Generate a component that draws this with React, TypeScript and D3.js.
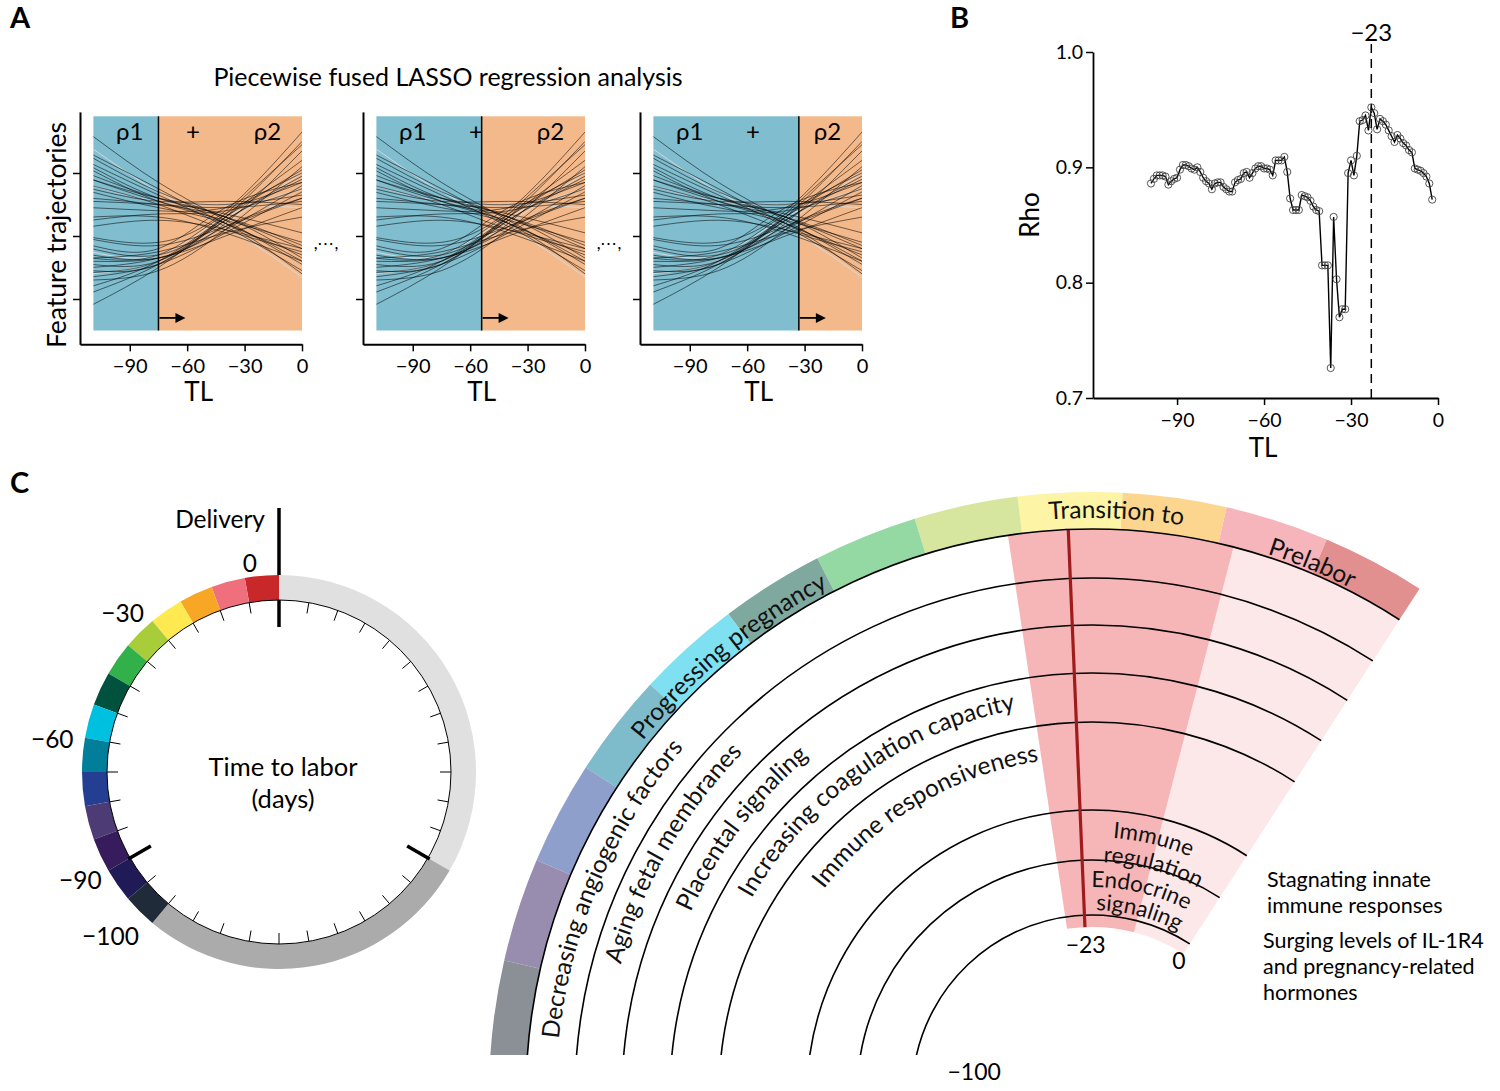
import React, { useEffect, useRef } from "react";
import * as d3 from "d3";

// ---------- panel A: feature trajectories (values at TL = trajTL) ----------
const trajTL = [-110, -75, -40, 0];
const trajectories = [
  [1.6, 0.85, 0.25, -0.45],
  [1.3, 0.75, 0.2, -0.3],
  [1.25, 0.7, 0.3, -0.2],
  [1.15, 0.65, 0.15, -0.55],
  [1.05, 0.55, 0.25, -0.1],
  [0.97, 0.6, 0.3, -0.35],
  [0.9, 0.55, 0.2, -0.6],
  [0.8, 0.5, 0.1, -0.25],
  [0.7, 0.45, 0.2, -0.4],
  [0.6, 0.5, 0.3, -0.15],
  [1.1, 0.6, 0.35, 0.05],
  [0.3, 0.3, 0.05, -0.4],
  [0.15, 0.25, 0.1, -0.2],
  [0.75, 0.55, 0.55, 0.5],
  [0.9, 0.6, 0.5, 0.65],
  [0.55, 0.5, 0.45, 0.55],
  [0.25, 0.35, 0.4, 0.75],
  [0.45, 0.4, 0.45, 0.85],
  [-0.02, -0.1, 0.4, 1.65],
  [-0.2, -0.3, 0.3, 1.5],
  [-0.3, -0.35, 0.2, 1.35],
  [-0.35, -0.3, 0.35, 1.0],
  [-0.45, -0.4, 0.25, 0.9],
  [-0.5, -0.35, 0.1, 0.8],
  [-0.58, -0.4, 0.3, 1.2],
  [-0.65, -0.45, 0.05, 0.7],
  [-0.8, -0.4, 0.3, 1.05],
  [-1.1, -0.5, 0.25, 0.95],
  [-0.9, -0.45, 0.15, 0.6],
  [-0.4, -0.35, 0.0, 0.45],
  [-0.15, -0.2, 0.45, 0.85],
  [-0.7, -0.55, 0.1, 1.1],
  [-0.35, -0.25, 0.05, 0.3],
  [-0.55, -0.45, 0.35, 1.45],
  [-0.05, -0.15, 0.15, 0.6],
];
const faintTrajectories = [
  [1.4, 0.7, 0.15, -0.65],
  [0.8, 0.55, 0.5, 0.45],
  [-0.25, -0.3, 0.3, 0.75],
  [-0.6, -0.4, 0.2, 1.0],
];
const breakpoints = [-75, -54, -33];
const trajXTicks = [-90, -60, -30, 0];
const trajYTicks = [-1, 0, 1];

// ---------- panel B: rho by breakpoint ----------
const rhoDays = [
  -99, -98, -97, -96, -95, -94, -93, -92, -91, -90, -89, -88, -87, -86, -85, -84, -83, -82, -81, -80,
  -79, -78, -77, -76, -75, -74, -73, -72, -71, -70, -69, -68, -67, -66, -65, -64, -63, -62, -61, -60,
  -59, -58, -57, -56, -55, -54, -53, -52, -51, -50, -49, -48, -47, -46, -45, -44, -43, -42, -41, -40,
  -39, -38, -37, -36, -35, -34, -33, -32, -31, -30, -29, -28, -27, -26, -25, -24, -23, -22, -21, -20,
  -19, -18, -17, -16, -15, -14, -13, -12, -11, -10, -9, -8, -7, -6, -5, -4, -3, -2,
];
const rhoValues = [
  0.886, 0.89, 0.893, 0.893, 0.893, 0.892, 0.885, 0.888, 0.89, 0.891, 0.898, 0.902, 0.902, 0.901, 0.899, 0.898, 0.9, 0.896, 0.891, 0.888,
  0.886, 0.881, 0.886, 0.887, 0.887, 0.883, 0.881, 0.879, 0.879, 0.887, 0.889, 0.89, 0.895, 0.896, 0.891, 0.895, 0.899, 0.901, 0.901, 0.899,
  0.899, 0.898, 0.893, 0.906, 0.906, 0.906, 0.909, 0.896, 0.873, 0.863, 0.863, 0.863, 0.876, 0.875, 0.874, 0.871, 0.866, 0.863, 0.862, 0.815,
  0.815, 0.815, 0.726, 0.857, 0.803, 0.77, 0.777, 0.777, 0.895, 0.906, 0.893, 0.91, 0.94, 0.941, 0.945, 0.932, 0.952, 0.947, 0.933, 0.942,
  0.94, 0.937, 0.932, 0.927, 0.922, 0.928, 0.925, 0.921, 0.919, 0.915, 0.913, 0.899, 0.898, 0.897, 0.895, 0.892, 0.886, 0.872,
];
const rhoXTicks = [-90, -60, -30, 0];
const rhoYTicks = [0.7, 0.8, 0.9, 1.0];
const bestBreak = -23;

// ---------- panel C: clock ----------
const clockColors = [
  "#c8282a", "#ef6f7c", "#f8a724", "#feea50", "#a9cd3a", "#32b14a", "#00523e",
  "#00c0e0", "#007e9a", "#243e92", "#4d3b75", "#361c5d", "#201a57", "#1f2b38",
];
const clockLabels = [0, -30, -60, -90, -100];

// ---------- panel C: fan ----------
const fanColors = [
  "#e28f8f", "#f6b4bb", "#fcd68e", "#fdf4a6", "#d6e69e", "#94d9a3", "#7fa89e",
  "#7ee0f0", "#7ebccb", "#8f9fcb", "#998daf", "#8a9096", "#8a9096", "#8a9096",
];
const bandLabels = ["Progressing pregnancy", "Transition to", "Prelabor"];
const trackLabels = [
  "Decreasing angiogenic factors",
  "Aging fetal membranes",
  "Placental signaling",
  "Increasing coagulation capacity",
  "Immune responsiveness",
];
const innerLabels = ["Immune", "regulation", "Endocrine", "signaling"];
const transitionWindow = [-27, -12];
const fanTicks = [-23, 0];
const noteLines1 = ["Stagnating innate", "immune responses"];
const noteLines2 = ["Surging levels of IL-1R4", "and pregnancy-related", "hormones"];

const deg = Math.PI / 180;
const minus = (d: number) => (d < 0 ? `\u2212${Math.abs(d)}` : `${d}`);

const App = () => {
  const svgRef = useRef<SVGSVGElement>(null);

  useEffect(() => {
    const svg = d3.select(svgRef.current);
    svg.selectAll("*").remove();
    svg.style("font-family", "Lato, 'Open Sans', sans-serif");
    const defs = svg.append("defs");

    // panel letters
    [["A", 10, 28], ["B", 950, 28], ["C", 10, 493]].forEach(([t, x, y]) => {
      svg.append("text").attr("x", x).attr("y", y).text(t as string)
        .style("font-size", "29px").style("font-weight", "bold");
    });

    // ================= Panel A =================
    svg.append("text").attr("x", 448).attr("y", 86).attr("text-anchor", "middle")
      .style("font-size", "25px").text("Piecewise fused LASSO regression analysis");

    const offsets = [0, 283, 560];
    offsets.forEach((off, k) => {
      const x = d3.scaleLinear().domain([-116, 0]).range([80 + off, 302 + off]);
      const y = d3.scaleLinear().domain([-1, 1]).range([299, 173]);
      const brk = breakpoints[k];
      const g = svg.append("g");

      g.append("rect").attr("x", x(-109)).attr("y", y(1.9))
        .attr("width", x(brk) - x(-109)).attr("height", y(-1.5) - y(1.9)).attr("fill", "#7fbdcf");
      g.append("rect").attr("x", x(brk)).attr("y", y(1.9))
        .attr("width", x(0) - x(brk)).attr("height", y(-1.5) - y(1.9)).attr("fill", "#f4b98a");

      defs.append("clipPath").attr("id", `clipA${k}`).append("rect")
        .attr("x", x(-109)).attr("y", y(1.9))
        .attr("width", x(0) - x(-109)).attr("height", y(-1.5) - y(1.9));

      const line = d3.line<number>()
        .x((d, i) => x(trajTL[i]))
        .y((d) => y(d))
        .curve(d3.curveNatural);

      const lg = g.append("g").attr("clip-path", `url(#clipA${k})`);
      lg.selectAll("path.faint").data(faintTrajectories).join("path")
        .attr("class", "faint").attr("d", line).attr("fill", "none")
        .attr("stroke", "#d8d8d8").attr("stroke-width", 1);
      lg.selectAll("path.traj").data(trajectories).join("path")
        .attr("class", "traj").attr("d", line).attr("fill", "none")
        .attr("stroke", "#000").attr("stroke-opacity", 0.6).attr("stroke-width", 0.9);

      // breakpoint + arrow
      g.append("line").attr("x1", x(brk)).attr("x2", x(brk))
        .attr("y1", y(1.9)).attr("y2", y(-1.5)).attr("stroke", "#000").attr("stroke-width", 1.5);
      const ay = y(-1.3);
      g.append("line").attr("x1", x(brk) + 1).attr("x2", x(brk) + 20)
        .attr("y1", ay).attr("y2", ay).attr("stroke", "#000").attr("stroke-width", 1.8);
      g.append("path")
        .attr("d", `M${x(brk) + 27},${ay}L${x(brk) + 17},${ay - 5}L${x(brk) + 17},${ay + 5}Z`)
        .attr("fill", "#000");

      // labels rho1 + rho2
      [["\u03c11", -90], ["+", -57], ["\u03c12", -18]].forEach(([t, v]) => {
        g.append("text").attr("x", x(v as number)).attr("y", y(1.52)).attr("text-anchor", "middle")
          .style("font-size", "24px").text(t as string);
      });

      // axes
      const yAx = d3.scaleLinear().domain([-1.72, 1.97]).range([y(-1.72), y(1.97)]);
      const yAxis = g.append("g").attr("transform", `translate(${x(-116)},0)`)
        .call(d3.axisLeft(yAx).tickValues(trajYTicks).tickFormat(() => "").tickSize(7).tickSizeOuter(0));
      yAxis.select(".domain").attr("stroke-width", 2);
      yAxis.selectAll(".tick line").attr("stroke-width", 1.5);

      const xAxis = g.append("g").attr("transform", `translate(0,${y(-1.72)})`)
        .call(d3.axisBottom(x).tickValues(trajXTicks).tickFormat((d) => minus(+d)).tickSize(7).tickSizeOuter(0));
      xAxis.select(".domain").attr("stroke-width", 2);
      xAxis.selectAll(".tick line").attr("stroke-width", 1.5);
      xAxis.selectAll(".tick text").style("font-size", "20px").style("font-family", "Lato, sans-serif").attr("dy", "0.95em");

      g.append("text").attr("x", x(-54)).attr("y", 401).attr("text-anchor", "middle")
        .style("font-size", "26px").text("TL");

      if (k < 2) {
        g.append("text").attr("x", x(0) + 24).attr("y", 249).attr("text-anchor", "middle")
          .style("font-size", "17px").text(",\u22ef,");
      }
    });

    svg.append("text").attr("transform", "translate(66,235) rotate(-90)").attr("text-anchor", "middle")
      .style("font-size", "26.5px").text("Feature trajectories");

    // ================= Panel B =================
    const xB = d3.scaleLinear().domain([-119, 0]).range([1093, 1438]);
    const yB = d3.scaleLinear().domain([0.7, 1.0]).range([398, 52]);
    const gB = svg.append("g");

    gB.append("line").attr("x1", xB(bestBreak)).attr("x2", xB(bestBreak))
      .attr("y1", 44).attr("y2", yB(0.7)).attr("stroke", "#000").attr("stroke-width", 1.5)
      .attr("stroke-dasharray", "9,6");
    gB.append("text").attr("x", xB(bestBreak)).attr("y", 41).attr("text-anchor", "middle")
      .style("font-size", "24px").text(minus(bestBreak));

    const rhoPts = rhoDays.map((d, i) => ({ d, v: rhoValues[i] }));
    gB.append("path").datum(rhoPts)
      .attr("d", d3.line<{ d: number; v: number }>().x((p) => xB(p.d)).y((p) => yB(p.v)))
      .attr("fill", "none").attr("stroke", "#000").attr("stroke-width", 1.4);
    gB.selectAll("circle").data(rhoPts).join("circle")
      .attr("cx", (p) => xB(p.d)).attr("cy", (p) => yB(p.v)).attr("r", 3.6)
      .attr("fill", "none").attr("stroke", "#444").attr("stroke-width", 0.9);

    const bx = gB.append("g").attr("transform", `translate(0,${yB(0.7)})`)
      .call(d3.axisBottom(xB).tickValues(rhoXTicks).tickFormat((d) => minus(+d)).tickSize(7).tickSizeOuter(0));
    const by = gB.append("g").attr("transform", `translate(${xB(-119)},0)`)
      .call(d3.axisLeft(yB).tickValues(rhoYTicks).tickFormat(d3.format(".1f")).tickSize(7).tickSizeOuter(0));
    [bx, by].forEach((a) => {
      a.select(".domain").attr("stroke-width", 1.8);
      a.selectAll(".tick line").attr("stroke-width", 1.5);
      a.selectAll(".tick text").style("font-size", "19.5px").style("font-family", "Lato, sans-serif");
    });
    bx.selectAll(".tick text").attr("dy", "0.95em");
    gB.append("text").attr("x", 1263).attr("y", 457).attr("text-anchor", "middle")
      .style("font-size", "26px").text("TL");
    gB.append("text").attr("transform", "translate(1039,215) rotate(-90)").attr("text-anchor", "middle")
      .style("font-size", "26px").text("Rho");

    // ================= Panel C: clock =================
    const cx = 279, cy = 772, rIn = 172, rOut = 197;
    const gC = svg.append("g").attr("transform", `translate(${cx},${cy})`);
    const arc = d3.arc<any>();
    gC.append("line").attr("x1", 0).attr("x2", 0).attr("y1", -264).attr("y2", -145)
      .attr("stroke", "#000").attr("stroke-width", 3.5);
    gC.append("path").attr("d", arc({ innerRadius: rIn, outerRadius: rOut, startAngle: 0, endAngle: 120 * deg }))
      .attr("fill", "#e0e0e0");
    gC.append("path").attr("d", arc({ innerRadius: rIn, outerRadius: rOut, startAngle: 120 * deg, endAngle: 220 * deg }))
      .attr("fill", "#ababab");
    clockColors.forEach((c, i) => {
      gC.append("path")
        .attr("d", arc({ innerRadius: rIn, outerRadius: rOut, startAngle: -(i + 1) * 10 * deg, endAngle: -i * 10 * deg }))
        .attr("fill", c);
    });
    gC.append("circle").attr("r", rIn).attr("fill", "none").attr("stroke", "#000").attr("stroke-width", 1);
    d3.range(1, 36).forEach((i) => {
      const a = i * 10 * deg;
      const thick = i === 12 || i === 24;
      const r0 = thick ? rIn + 2 : rIn, r1 = thick ? rIn - 24 : rIn - 11;
      gC.append("line")
        .attr("x1", r0 * Math.sin(a)).attr("y1", -r0 * Math.cos(a))
        .attr("x2", r1 * Math.sin(a)).attr("y2", -r1 * Math.cos(a))
        .attr("stroke", "#000").attr("stroke-width", thick ? 3.5 : 1);
    });
    const clockAngle = d3.scaleLinear().domain([-100, 0]).range([135, 0]);
    clockLabels.forEach((d) => {
      const a = -clockAngle(d) * deg;
      const r = d === -100 ? 218 : 208;
      const lx = d === 0 ? -22 : r * Math.sin(a) + (d === -100 ? 14 : 0);
      const ly = d === 0 ? -rOut - 12 : -r * Math.cos(a) + (d === -100 ? 10 : 0);
      gC.append("text").attr("x", lx).attr("y", ly).attr("dy", "0.35em").attr("text-anchor", "end")
        .style("font-size", "24.5px").text(minus(d));
    });
    gC.append("text").attr("x", -14).attr("y", -244).attr("text-anchor", "end")
      .style("font-size", "24.5px").text("Delivery");
    gC.append("text").attr("x", 4).attr("y", 4).attr("text-anchor", "middle")
      .style("font-size", "25.5px").text("Time to labor");
    gC.append("text").attr("x", 4).attr("y", 36).attr("text-anchor", "middle")
      .style("font-size", "25.5px").text("(days)");

    // ================= Panel C: fan =================
    const fcx = 1092, fcy = 1095;
    const fanAngle = d3.scaleLinear().domain([-100, 0]).range([-120.6, 32.9]);
    const a0 = fanAngle(0);
    const aStart = -120;
    const bandIn = 566, bandOut = 603, coreIn = 168;
    const trackRadii = [517, 470, 422, 373, 285, 235, 180];
    const pt = (r: number, a: number) => [fcx + r * Math.sin(a * deg), fcy - r * Math.cos(a * deg)];
    const arcD = (r: number, s: number, e: number) => {
      const [x0, y0] = pt(r, s);
      const [x1, y1] = pt(r, e);
      return `M${x0},${y0}A${r},${r} 0 ${e - s > 180 ? 1 : 0} 1 ${x1},${y1}`;
    };

    defs.append("clipPath").attr("id", "fanClip").append("rect")
      .attr("x", 0).attr("y", 0).attr("width", 1500).attr("height", 1055);
    const gF = svg.append("g").attr("clip-path", "url(#fanClip)");
    const gFa = gF.append("g").attr("transform", `translate(${fcx},${fcy})`);

    // pale and strong pink windows
    gFa.append("path").attr("d", arc({ innerRadius: coreIn, outerRadius: bandIn,
      startAngle: fanAngle(transitionWindow[1]) * deg, endAngle: a0 * deg })).attr("fill", "#fde8e9");
    gFa.append("path").attr("d", arc({ innerRadius: coreIn, outerRadius: bandIn,
      startAngle: fanAngle(transitionWindow[0]) * deg, endAngle: fanAngle(transitionWindow[1]) * deg })).attr("fill", "#f6b6b8");

    // track arcs
    trackRadii.forEach((r) => {
      gF.append("path").attr("d", arcD(r, aStart, a0)).attr("fill", "none")
        .attr("stroke", "#000").attr("stroke-width", 1.6);
    });

    // -23 red line
    const [rx0, ry0] = pt(coreIn, fanAngle(bestBreak));
    const [rx1, ry1] = pt(bandIn, fanAngle(bestBreak));
    gF.append("line").attr("x1", rx0).attr("y1", ry0).attr("x2", rx1).attr("y2", ry1)
      .attr("stroke", "#a01c1c").attr("stroke-width", 3.2);

    // colour band
    fanColors.forEach((c, i) => {
      gFa.append("path").attr("d", arc({ innerRadius: bandIn, outerRadius: bandOut,
        startAngle: (a0 - (i + 1) * 10) * deg, endAngle: (a0 - i * 10) * deg })).attr("fill", c);
    });
    gF.append("path").attr("d", arcD(bandIn, aStart, a0)).attr("fill", "none")
      .attr("stroke", "#000").attr("stroke-width", 1.6);

    // text along arcs
    let pid = 0;
    const arcText = (txt: string, r: number, s: number, e: number, anchor: string, size: number) => {
      const id = `fanTxt${pid++}`;
      defs.append("path").attr("id", id).attr("d", arcD(r, s, e));
      svg.append("text").style("font-size", `${size}px`).attr("fill", "#111")
        .append("textPath").attr("href", `#${id}`)
        .attr("startOffset", anchor === "middle" ? "50%" : "0%")
        .attr("text-anchor", anchor).text(txt);
    };
    const bandPos = [[572, -39.6], [577, 2.4], [569, 22.5]];
    bandLabels.forEach((t, i) => arcText(t, bandPos[i][0], bandPos[i][1] - 40, bandPos[i][1] + 40, "middle", 24.5));
    const trackPos = [[536, -84], [489, -74.5], [441, -65.5], [393, -60], [338, -52.5]];
    trackLabels.forEach((t, i) => arcText(t, trackPos[i][0], trackPos[i][1], trackPos[i][1] + 85, "start", 24.5));
    const innerPos = [[258, 13.5], [233, 15], [208, 13.5], [185, 14.5]];
    innerLabels.forEach((t, i) => arcText(t, innerPos[i][0], innerPos[i][1] - 40, innerPos[i][1] + 40, "middle", 22.5));

    fanTicks.forEach((d) => {
      const [lx, ly] = pt(d === 0 ? 160 : 150, fanAngle(d));
      svg.append("text").attr("x", lx).attr("y", ly).attr("dy", "0.35em").attr("text-anchor", "middle")
        .style("font-size", "23px").text(minus(d));
    });
    const [lx100, ly100] = pt(120, -79);
    svg.append("text").attr("x", lx100).attr("y", ly100).attr("dy", "0.35em").attr("text-anchor", "middle")
      .style("font-size", "23px").text(minus(-100));

    noteLines1.forEach((t, i) => {
      svg.append("text").attr("x", 1267).attr("y", 887 + i * 26).style("font-size", "21.5px").text(t);
    });
    noteLines2.forEach((t, i) => {
      svg.append("text").attr("x", 1263).attr("y", 948 + i * 26).style("font-size", "21.5px").text(t);
    });
  }, []);

  return (
    <svg
      ref={svgRef}
      width={1500}
      height={1091}
      style={{ position: "absolute", left: 0, top: 0, background: "#fff" }}
    />
  );
};

export default App;
